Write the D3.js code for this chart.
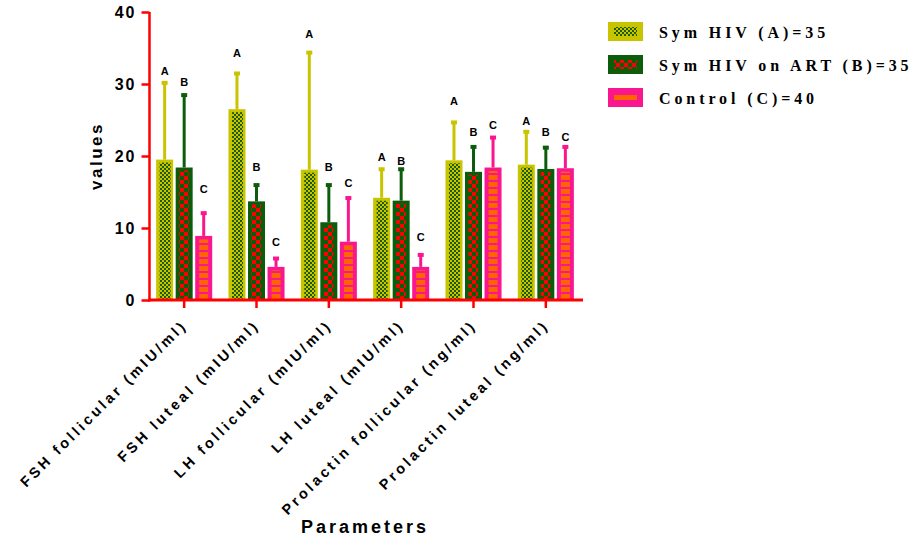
<!DOCTYPE html>
<html><head><meta charset="utf-8">
<script src="https://cdn.jsdelivr.net/npm/d3@7"></script>
<style>body{margin:0;background:#fff}</style>
</head><body><svg id="c" width="923" height="540"></svg>
<script>
const categories = ["FSH follicular (mIU/ml)","FSH luteal (mIU/ml)","LH follicular (mIU/ml)","LH luteal (mIU/ml)","Prolactin follicular (ng/ml)","Prolactin luteal (ng/ml)"];
const seriesNames = ["Sym HIV (A)=35","Sym HIV on ART (B)=35","Control (C)=40"];
const seriesLetters = ["A","B","C"];
const meanA = [19.5, 26.5, 18.1, 14.2, 19.4, 18.8];
const meanB = [18.4, 13.7, 10.8, 13.8, 17.8, 18.2];
const meanC = [8.9, 4.6, 8.1, 4.6, 18.4, 18.3];
const upperA = [30.3, 31.6, 34.5, 18.3, 24.8, 23.5];
const upperB = [28.6, 16.1, 16.1, 18.3, 21.4, 21.3];
const upperC = [12.2, 5.9, 14.3, 6.4, 22.7, 21.4];
const letterA = [31.8, 34.3, 37.0, 19.9, 27.6, 24.9];
const letterB = [30.3, 18.5, 18.5, 19.3, 23.3, 23.3];
const letterC = [15.4, 8.1, 16.3, 8.7, 24.3, 22.7];
const yTicks = [0, 10, 20, 30, 40];

const means = [meanA, meanB, meanC];
const uppers = [upperA, upperB, upperC];
const letters = [letterA, letterB, letterC];
const colors = ["#c8c400", "#0b5d0b", "#fa168c"];
const patIds = ["pA", "pB", "pC"];

const svg = d3.select("#c");
const defs = svg.append("defs");
const pA = defs.append("pattern").attr("id","pA").attr("patternUnits","userSpaceOnUse").attr("width",4).attr("height",4);
pA.append("rect").attr("width",4).attr("height",4).attr("fill","#c8c400");
pA.append("rect").attr("width",2).attr("height",2).attr("fill","#1f5c00");
pA.append("rect").attr("x",2).attr("y",2).attr("width",2).attr("height",2).attr("fill","#1f5c00");
const pB = defs.append("pattern").attr("id","pB").attr("patternUnits","userSpaceOnUse").attr("width",8).attr("height",8);
pB.append("rect").attr("width",8).attr("height",8).attr("fill","#0b5d0b");
pB.append("rect").attr("width",4).attr("height",4).attr("fill","#ff0000");
pB.append("rect").attr("x",4).attr("y",4).attr("width",4).attr("height",4).attr("fill","#ff0000");
const pC = defs.append("pattern").attr("id","pC").attr("patternUnits","userSpaceOnUse").attr("width",20).attr("height",7);
pC.append("rect").attr("width",20).attr("height",7).attr("fill","#fa168c");
pC.append("rect").attr("width",20).attr("height",5).attr("fill","#ff6600");

const plotL = 148, plotR = 582, plotT = 12, plotB = 300;
const x0 = d3.scaleBand().domain(categories).range([plotL, plotR]).paddingInner(0.225).paddingOuter(0.1125);
const x1 = d3.scaleBand().domain(d3.range(3)).range([0, x0.bandwidth()]).paddingInner(0.13);
const y = d3.scaleLinear().domain([0, 40]).range([plotB, plotT]);

const bars = [];
categories.forEach((c, i) => {
  for (let s = 0; s < 3; s++) bars.push({c, i, s, v: means[s][i], u: uppers[s][i], l: letters[s][i]});
});

const g = svg.append("g");
const bw = x1.bandwidth();
g.selectAll(".err").data(bars).join("line")
  .attr("x1", d => x0(d.c) + x1(d.s) + bw/2).attr("x2", d => x0(d.c) + x1(d.s) + bw/2)
  .attr("y1", d => y(d.v)).attr("y2", d => y(d.u))
  .attr("stroke", d => colors[d.s]).attr("stroke-width", 3);
g.selectAll(".cap").data(bars).join("rect")
  .attr("x", d => x0(d.c) + x1(d.s) + bw/2 - 3).attr("y", d => y(d.u) - 1)
  .attr("width", 6).attr("height", 4).attr("fill", d => colors[d.s]);
g.selectAll(".bar").data(bars).join("rect")
  .attr("x", d => x0(d.c) + x1(d.s)).attr("y", d => y(d.v))
  .attr("width", bw).attr("height", d => y(0) - y(d.v)).attr("fill", d => colors[d.s]);
const insets = [[3.5,2.5,3],[3.5,4,3],[4,4,3.5]];
g.selectAll(".inner").data(bars).join("rect")
  .attr("x", d => x0(d.c) + x1(d.s) + insets[d.s][0]).attr("y", d => y(d.v) + insets[d.s][2])
  .attr("width", d => bw - insets[d.s][0] - insets[d.s][1])
  .attr("height", d => Math.max(0, y(0) - y(d.v) - insets[d.s][2]))
  .attr("fill", d => `url(#${patIds[d.s]})`);
g.selectAll(".lt").data(bars).join("text")
  .attr("x", d => x0(d.c) + x1(d.s) + bw/2).attr("y", d => y(d.l))
  .attr("text-anchor","middle").attr("dominant-baseline","central")
  .attr("font-family","Liberation Sans, Arial, sans-serif").attr("font-weight","bold").attr("font-size",11)
  .text(d => seriesLetters[d.s]);

const axisColor = "#ff0000";
svg.append("line").attr("x1", 149.5).attr("x2", 149.5).attr("y1", plotT).attr("y2", plotB+1.5).attr("stroke", axisColor).attr("stroke-width", 2.5);
svg.append("line").attr("x1", 148).attr("x2", 583).attr("y1", plotB).attr("y2", plotB).attr("stroke", axisColor).attr("stroke-width", 3);
const yAxis = svg.append("g").attr("transform","translate(149.5,0)")
  .call(d3.axisLeft(y).tickValues(yTicks).tickSize(8).tickPadding(5).tickSizeOuter(0));
yAxis.select(".domain").remove();
yAxis.selectAll(".tick line").attr("stroke", axisColor).attr("stroke-width", 2.5);
yAxis.selectAll(".tick text").attr("fill","#000").attr("font-family","Liberation Sans, Arial, sans-serif")
  .attr("font-weight","bold").attr("font-size",16).attr("letter-spacing","2px").attr("dy","0.35em");

const xAxis = svg.append("g").attr("transform",`translate(0,${plotB})`)
  .call(d3.axisBottom(x0).tickSize(8).tickSizeOuter(0).tickFormat(""));
xAxis.select(".domain").remove();
xAxis.selectAll(".tick line").attr("stroke", axisColor).attr("stroke-width", 2.5);
svg.append("g").selectAll("text").data(categories).join("text")
  .attr("transform", d => `translate(${x0(d) + x0.bandwidth()/2 + 4},${plotB + 26}) rotate(-45)`)
  .attr("text-anchor","end")
  .attr("font-family","Liberation Sans, Arial, sans-serif").attr("font-weight","bold").attr("font-size",14.5)
  .attr("letter-spacing","3.2px")
  .text(d => d);

svg.append("text").attr("x", (plotL+plotR)/2).attr("y", 533).attr("text-anchor","middle")
  .attr("font-family","Liberation Sans, Arial, sans-serif").attr("font-weight","bold").attr("font-size",18)
  .attr("letter-spacing","3px").text("Parameters");
svg.append("text").attr("transform",`translate(102,${(plotT+plotB)/2}) rotate(-90)`).attr("text-anchor","middle")
  .attr("font-family","Liberation Sans, Arial, sans-serif").attr("font-weight","bold").attr("font-size",17)
  .attr("letter-spacing","2.5px").text("values");

const leg = svg.append("g").attr("transform","translate(608,22)");
seriesNames.forEach((n, s) => {
  const r = leg.append("g").attr("transform",`translate(0,${s*33})`);
  r.append("rect").attr("width",35).attr("height",19).attr("fill",colors[s]);
  r.append("rect").attr("x",6).attr("y",5).attr("width",23).attr("height",9).attr("fill",`url(#${patIds[s]})`);
  r.append("text").attr("x",51).attr("y",16).attr("font-family","Liberation Serif, Times New Roman, serif")
    .attr("font-weight","bold").attr("font-size",16).attr("letter-spacing","3.9px").text(n);
});
</script></body></html>
